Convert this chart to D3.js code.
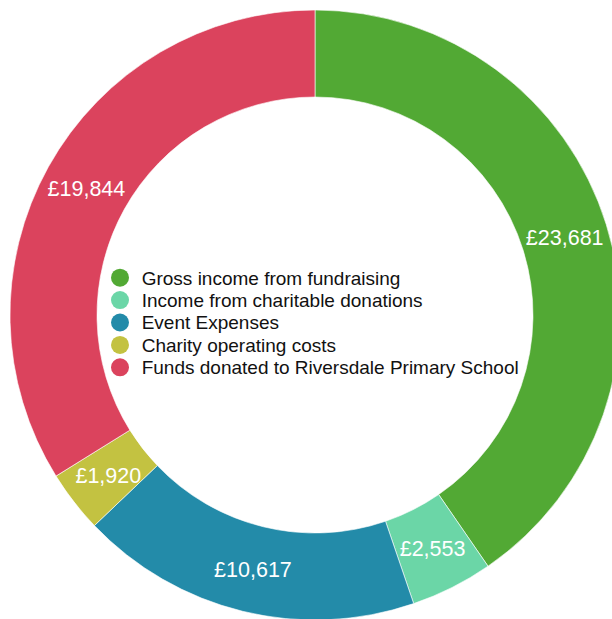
<!DOCTYPE html>
<html>
<head>
<meta charset="utf-8">
<script src="https://cdn.jsdelivr.net/npm/d3@7"></script>
<style>
  html, body { margin: 0; padding: 0; background: #fff; }
  svg { display: block; }
</style>
</head>
<body>
<svg id="chart" width="612" height="619"></svg>
<script>
const categories = [
  "Gross income from fundraising",
  "Income from charitable donations",
  "Event Expenses",
  "Charity operating costs",
  "Funds donated to Riversdale Primary School"
];
const values = [23681, 2553, 10617, 1920, 19844];
const colors = ["#52a934", "#6bd6a7", "#238ba9", "#c3c241", "#db435d"];

const svg = d3.select("#chart");
const cx = 315, cy = 315, outerR = 305, innerR = 218;

const data = categories.map((c, i) => ({ name: c, value: values[i], color: colors[i] }));
const pie = d3.pie().value(d => d.value).sort(null);
const arc = d3.arc().innerRadius(innerR).outerRadius(outerR);
const arcs = pie(data);

const g = svg.append("g").attr("transform", `translate(${cx},${cy})`);
g.selectAll("path").data(arcs).enter().append("path")
  .attr("d", arc)
  .attr("fill", d => d.data.color)
  .attr("stroke", "#fff")
  .attr("stroke-width", 0.6);

const fmt = d3.format(",");
g.selectAll("text.lbl").data(arcs).enter().append("text")
  .attr("class", "lbl")
  .attr("transform", d => `translate(${arc.centroid(d)})`)
  .attr("text-anchor", "middle")
  .attr("dy", "0.36em")
  .attr("fill", "#fff")
  .style("font-family", "'Liberation Sans', Arial, Helvetica, sans-serif")
  .style("font-size", "21.5px")
  .text(d => "£" + fmt(d.data.value));

const legend = svg.append("g").attr("transform", "translate(120,277.7)");
const rowH = 22.4;
const items = legend.selectAll("g").data(data).enter().append("g")
  .attr("transform", (d, i) => `translate(0,${i * rowH})`);
items.append("circle").attr("r", 9).attr("fill", d => d.color);
items.append("text")
  .attr("x", 21.7)
  .attr("dy", "0.36em")
  .attr("fill", "#111")
  .style("font-family", "'Liberation Sans', Arial, Helvetica, sans-serif")
  .style("font-size", "19px")
  .text(d => d.name);
</script>
</body>
</html>
